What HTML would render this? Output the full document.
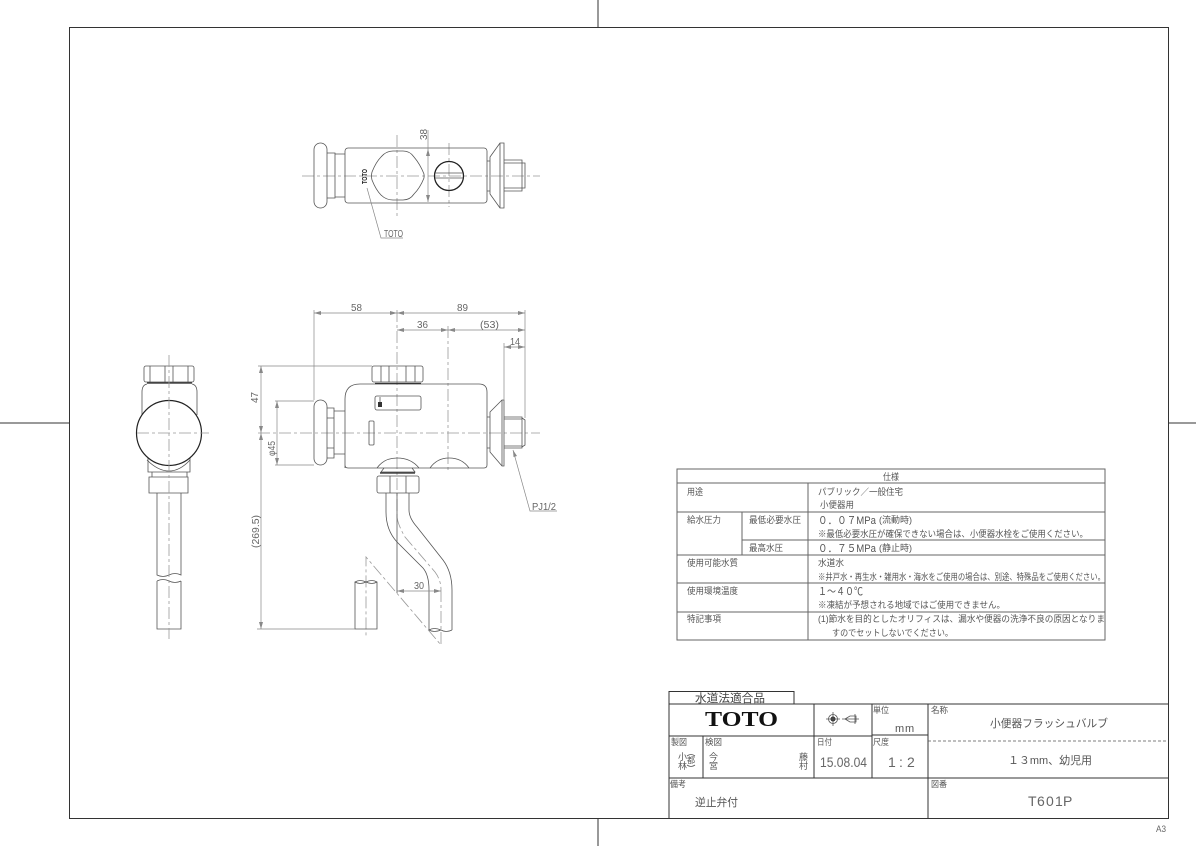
<!DOCTYPE html>
<html><head><meta charset="utf-8"><style>
html,body{margin:0;padding:0;background:#fff;width:1200px;height:848px;overflow:hidden}
svg{display:block;font-size:9px}
text{font-family:"Liberation Sans","Noto Sans CJK JP",sans-serif;fill:#555}
.m{font-family:"Liberation Sans","Noto Sans CJK JP",sans-serif;fill:#666}
.o{fill:none;stroke:#555;stroke-width:.8}
.h{fill:none;stroke:#222;stroke-width:1.3}
.d{fill:none;stroke:#888;stroke-width:.7}
.c{fill:none;stroke:#999;stroke-width:.8;stroke-dasharray:12 3 3 3}
.t{fill:none;stroke:#666;stroke-width:1}
.f{fill:none;stroke:#333;stroke-width:1}
.a{fill:#888}
</style></head><body>
<svg width="1200" height="848" viewBox="0 0 1200 848" xmlns="http://www.w3.org/2000/svg">
<rect width="1200" height="848" fill="#fff"/>
<!-- frame -->
<rect class="f" x="69.5" y="27.5" width="1099" height="791"/>
<path class="f" d="M598 0V27M598 818V846M0 423H69M1168 423H1196"/>

<!-- top view -->
<g>
<path class="c" d="M302 176H540M397 135V218M449 143V207"/>
<rect class="o" x="314" y="143" width="13" height="65" rx="6.5"/>
<path class="o" d="M327 153H335V198H327M335 154H345M335 197H345"/>
<rect class="o" x="345" y="148" width="142" height="55" rx="3"/>
<path class="o" d="M372 172Q376 162 381 157Q386 151 393 151H403Q410 151 414 157Q420 164 424 174V178Q420 188 414 194Q410 200 403 200H393Q386 200 381 195Q376 190 372 180Q371 176 372 172Z"/>
<circle class="h" cx="449" cy="176" r="14.5"/>
<path class="o" d="M435 173H463M435 178H463"/>
<path class="o" d="M487 161H490V191H487M490 157L500 143H504V208H500L490 194ZM500 143V208"/>
<path class="o" d="M504 160H522V191H504M522 163H525V188H522ZM504 163H522M504 188H522"/>
<path class="d" d="M428 149V202M428 130V149M367 188L381 238H403"/>
<path class="a" d="M428 149l-2 7h4zM428 202l-2-7h4z"/>
<text class="m" transform="translate(427,140) rotate(-90)" font-size="10" textLength="11" lengthAdjust="spacingAndGlyphs">38</text>
<text class="m" x="384" y="237" font-size="10" textLength="19" lengthAdjust="spacingAndGlyphs">TOTO</text>
<text transform="translate(367,184) rotate(-90)" font-size="7" font-weight="bold" style="fill:#222" textLength="15" lengthAdjust="spacingAndGlyphs">TOTO</text>
</g>

<!-- front view -->
<g>
<path class="c" d="M258 433H540M397 310V517M448 326V473"/>
<path class="c" d="M397 517Q398 525 405 537L435 572Q441 580 441 590"/>
<rect class="o" x="372" y="366" width="51" height="16" rx="2"/>
<path class="o" d="M381 366V382M389 366V382M406 366V382M415 366V382"/>
<path class="h" d="M375 383.5H421"/>
<path class="o" d="M345 468V399Q345 384 360 384H479Q487 384 487 392V465Q487 468 484 468H348Q345 468 345 465"/>
<rect class="o" x="375" y="396" width="46" height="14" rx="2"/>
<rect x="378" y="402" width="4" height="5" fill="#333"/>
<path class="o" d="M380 397V402"/>
<rect class="o" x="369" y="421" width="5" height="24" rx="1"/>
<rect class="o" x="314" y="400" width="13" height="65" rx="6.5"/>
<path class="o" d="M327 408H334V458H327M327 418H334M327 448H334M334 411H345M334 454H345"/>
<path class="o" d="M487 417H490V448H487M490 412L502 400H504V466H502L490 452ZM502 400V466"/>
<path class="o" d="M504 417H522V448H504M522 418L525 420V445L522 447ZM504 419H522M504 446H522"/>
<path class="o" d="M377 468Q384 458 397 458Q411 458 419 468M430 468Q437 458 449 458Q462 458 469 468"/>
<path class="h" d="M380 473H415"/>
<path class="o" d="M384 468L381 472H415L412 468"/>
<rect class="o" x="377" y="476" width="42" height="17" rx="2"/>
<path class="o" d="M390 476V493M406 476V493"/>
<!-- pipe -->
<path class="o" d="M386 493V512Q386 530 397 542L423 568Q429 575 429 590V630"/>
<path class="o" d="M409 493V510Q409 518 417 527L443 560Q452 572 452 590V630"/>
<path class="o" d="M429 630Q434 627 441 630Q446 633 452 630M429 630Q434 633 441 630"/>
<path class="c" d="M441 590V645L366 557V637"/>
<path class="o" d="M397 493V593"/>
<path class="o" d="M355 582V629H377V582Q372 579 366 582Q360 585 355 582Q360 579 366 582Q372 585 377 582"/>
<!-- dims -->
<path class="d" d="M314 310V400M525 310V418M504 343V400M258 366H372M257 629H355M275 401H314M275 465H314"/>
<path class="d" d="M314 313H525M397 330H525M504 347H525M261 366V629M277 401V465M397 591H441M513 450L530 511H557"/>
<g class="a">
<path d="M314 313l7-2v4zM397 313l-7-2v4zM397 313l7-2v4zM525 313l-7-2v4zM397 330l7-2v4zM448 330l-7-2v4zM448 330l7-2v4zM525 330l-7-2v4zM504 347l7-2v4zM525 347l-7-2v4z"/>
<path d="M261 366l-2 7h4zM261 433l-2-7h4zM261 433l-2 7h4zM261 629l-2-7h4zM277 401l-2 7h4zM277 465l-2-7h4zM397 591l7-2v4zM441 591l-7-2v4zM513 450l.5 7 3.5-1z"/>
</g>
<text class="m" x="351" y="311" font-size="10" textLength="11" lengthAdjust="spacingAndGlyphs">58</text>
<text class="m" x="457" y="311" font-size="10" textLength="11" lengthAdjust="spacingAndGlyphs">89</text>
<text class="m" x="417" y="328" font-size="10" textLength="11" lengthAdjust="spacingAndGlyphs">36</text>
<text class="m" x="480" y="328" font-size="10" textLength="19" lengthAdjust="spacingAndGlyphs">(53)</text>
<text class="m" x="510" y="345" font-size="10" textLength="10" lengthAdjust="spacingAndGlyphs">14</text>
<text class="m" transform="translate(258,403) rotate(-90)" font-size="10" textLength="11" lengthAdjust="spacingAndGlyphs">47</text>
<text class="m" transform="translate(275,456) rotate(-90)" font-size="10" textLength="15" lengthAdjust="spacingAndGlyphs">φ45</text>
<text class="m" transform="translate(259,548) rotate(-90)" font-size="10" textLength="33" lengthAdjust="spacingAndGlyphs">(269.5)</text>
<text class="m" x="414" y="589" font-size="10" textLength="10" lengthAdjust="spacingAndGlyphs">30</text>
<text class="m" x="532" y="510" font-size="10" textLength="24" lengthAdjust="spacingAndGlyphs">PJ1/2</text>
</g>

<!-- side view -->
<g>
<rect class="o" x="144" y="366" width="50" height="16" rx="2"/>
<path class="o" d="M150 366V382M165 366V382M173 366V382M188 366V382"/>
<path class="h" d="M147 383H192"/>
<path class="o" d="M147 384Q142 385 142 392V415M192 384Q197 385 197 392V415"/>
<path class="o" d="M148 458V472H190V458M152 472H187V477H152ZM149 477H188V493H149ZM147 460Q158 471 169 471Q180 471 190 460"/>
<circle cx="169" cy="433" r="32.5" fill="#fff" stroke="#222" stroke-width="1.2"/>
<path class="o" d="M157 493V575Q163 578 169 575Q175 572 181 575V493M157 581Q163 578 169 581Q175 584 181 581M157 581V629H181V581"/>
<path class="c" d="M169 355V639M137 433H209"/>
</g>

<!-- spec table -->
<g>
<rect class="t" x="677" y="469" width="428" height="171"/>
<path class="t" d="M677 483H1105M677 512H1105M742 540H1105M677 555H1105M677 583H1105M677 612H1105M808 483V640M742 512V555"/>
<text x="883" y="480" textLength="16" lengthAdjust="spacingAndGlyphs">仕様</text>
<text x="687" y="495" textLength="16" lengthAdjust="spacingAndGlyphs">用途</text>
<text x="818" y="495" textLength="85" lengthAdjust="spacingAndGlyphs">パブリック／一般住宅</text>
<text x="820" y="508" textLength="34" lengthAdjust="spacingAndGlyphs">小便器用</text>
<text x="687" y="523" textLength="34" lengthAdjust="spacingAndGlyphs">給水圧力</text>
<text x="749" y="523" textLength="52" lengthAdjust="spacingAndGlyphs">最低必要水圧</text>
<text x="818" y="524" font-size="11" textLength="58" lengthAdjust="spacingAndGlyphs">０．０７MPa</text>
<text x="879" y="523" textLength="33" lengthAdjust="spacingAndGlyphs">(流動時)</text>
<text x="818" y="537" textLength="270" lengthAdjust="spacingAndGlyphs">※最低必要水圧が確保できない場合は、小便器水栓をご使用ください。</text>
<text x="749" y="551" textLength="34" lengthAdjust="spacingAndGlyphs">最高水圧</text>
<text x="818" y="552" font-size="11" textLength="58" lengthAdjust="spacingAndGlyphs">０．７５MPa</text>
<text x="879" y="551" textLength="33" lengthAdjust="spacingAndGlyphs">(静止時)</text>
<text x="687" y="566" textLength="51" lengthAdjust="spacingAndGlyphs">使用可能水質</text>
<text x="818" y="566" textLength="26" lengthAdjust="spacingAndGlyphs">水道水</text>
<text x="818" y="580" textLength="287" lengthAdjust="spacingAndGlyphs">※井戸水・再生水・雑用水・海水をご使用の場合は、別途、特殊品をご使用ください。</text>
<text x="687" y="594" textLength="51" lengthAdjust="spacingAndGlyphs">使用環境温度</text>
<text x="818" y="595" font-size="11" textLength="45" lengthAdjust="spacingAndGlyphs">１～４０℃</text>
<text x="818" y="608" textLength="187" lengthAdjust="spacingAndGlyphs">※凍結が予想される地域ではご使用できません。</text>
<text x="687" y="622" textLength="34" lengthAdjust="spacingAndGlyphs">特記事項</text>
<text x="818" y="622" textLength="287" lengthAdjust="spacingAndGlyphs">(1)節水を目的としたオリフィスは、漏水や便器の洗浄不良の原因となりま</text>
<text x="832" y="636" textLength="121" lengthAdjust="spacingAndGlyphs">すのでセットしないでください。</text>
</g>

<!-- title block -->
<g>
<path class="f" d="M669 704V691.5H794V704"/>
<path class="f" d="M669 704H1168M669 704V818M669 736H872M669 778H1168M872 735H928M928 704V818M703 736V778M814 704V778M872 704V778"/>
<path d="M928 741H1168" fill="none" stroke="#555" stroke-width=".8" stroke-dasharray="3 2"/>
<text x="695" y="702" font-size="11.5" textLength="70" lengthAdjust="spacingAndGlyphs" style="fill:#444">水道法適合品</text>
<text x="705" y="726" font-size="21" font-weight="bold" style="font-family:'Liberation Serif',serif;fill:#111" textLength="73" lengthAdjust="spacingAndGlyphs">TOTO</text>
<circle class="o" cx="833" cy="719" r="4.5"/><circle cx="833" cy="719" r="2.5" fill="#333"/>
<path class="o" d="M826 719H840M833 712V726M845 719L850 716H856V722H850ZM842 719H859M855 714V724"/>
<text x="873" y="713" font-size="8.5" textLength="16" lengthAdjust="spacingAndGlyphs">単位</text>
<text y="732" font-size="11" x="895 905">mm</text>
<text x="931" y="713" font-size="8.5" textLength="17" lengthAdjust="spacingAndGlyphs">名称</text>
<text x="990" y="727" font-size="11" textLength="118" lengthAdjust="spacingAndGlyphs">小便器フラッシュバルブ</text>
<text x="671" y="745" font-size="8.5" textLength="16" lengthAdjust="spacingAndGlyphs">製図</text>
<text x="705" y="745" font-size="8.5" textLength="17" lengthAdjust="spacingAndGlyphs">検図</text>
<text x="817" y="745" font-size="8.5" textLength="15" lengthAdjust="spacingAndGlyphs">日付</text>
<text x="873" y="745" font-size="8.5" textLength="16" lengthAdjust="spacingAndGlyphs">尺度</text>
<text x="678" y="760" font-size="9">小</text><text x="678" y="769" font-size="9">林</text>
<text x="687" y="763" font-size="8">都</text>
<path class="o" d="M687 756Q691 753 695 756M687 765Q691 768 695 765"/>
<text x="709" y="760" font-size="9">今</text><text x="709" y="769" font-size="9">宮</text>
<text x="799" y="760" font-size="9">藤</text><text x="799" y="769" font-size="9">村</text>
<text x="820" y="767" font-size="14" class="m" textLength="47" lengthAdjust="spacingAndGlyphs">15.08.04</text>
<text y="767" font-size="14" class="m" x="888 899 907">1:2</text>
<text x="1008" y="764" font-size="11" textLength="84" lengthAdjust="spacingAndGlyphs">１３mm、幼児用</text>
<text x="670" y="787" font-size="8.5" textLength="16" lengthAdjust="spacingAndGlyphs">備考</text>
<text x="931" y="787" font-size="8.5" textLength="16" lengthAdjust="spacingAndGlyphs">図番</text>
<text x="695" y="806" font-size="11" textLength="43" lengthAdjust="spacingAndGlyphs">逆止弁付</text>
<text y="806" font-size="14" class="m" x="1028 1037 1046 1055 1063">T601P</text>
<text x="1156" y="832" font-size="9" class="m" textLength="10" lengthAdjust="spacingAndGlyphs">A3</text>
</g>
</svg>
</body></html>
